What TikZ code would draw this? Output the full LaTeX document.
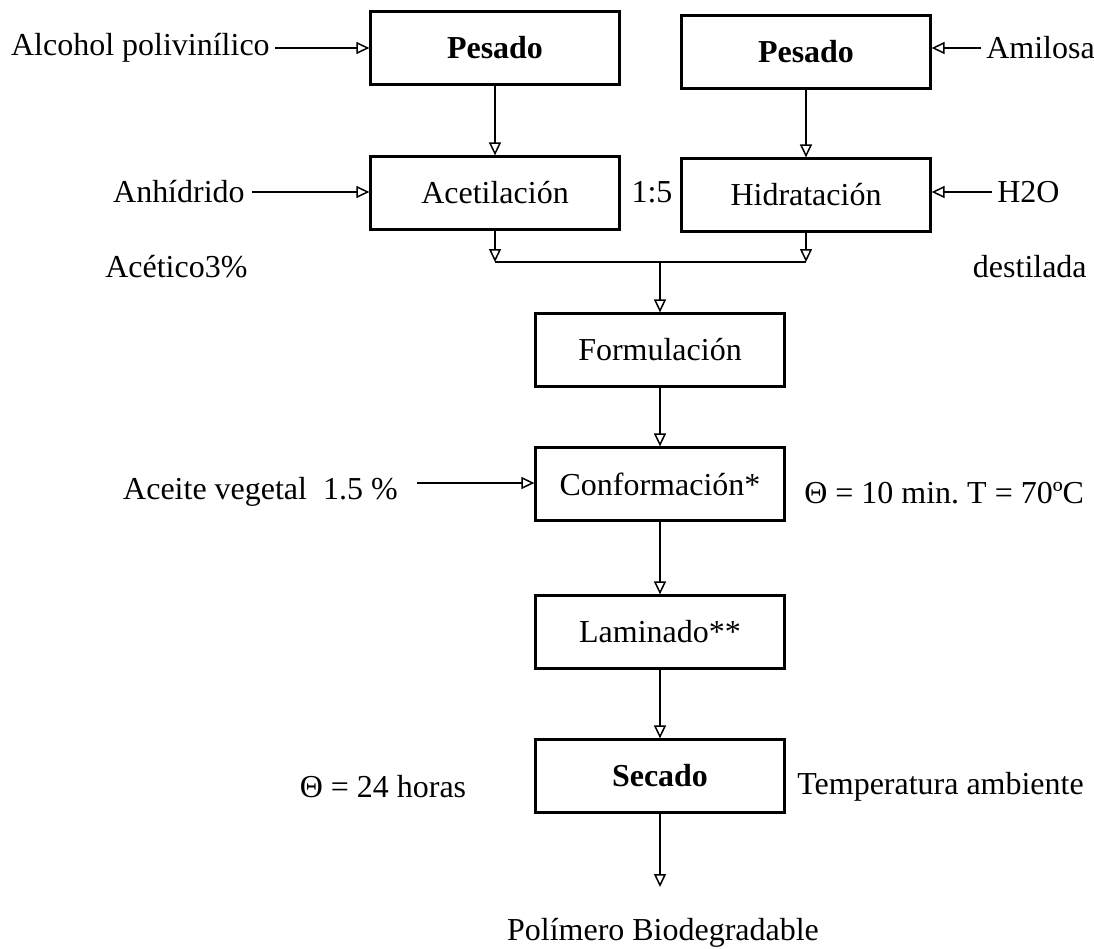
\documentclass[tikz,border=0pt]{standalone}
\usepackage{fontspec}
\setmainfont{Liberation Serif}
\usetikzlibrary{arrows.meta}
\begin{document}
\fontsize{18.2}{22}\selectfont
\frenchspacing
\begin{tikzpicture}[x=0.2mm, y=-0.2mm,
	box/.style={draw, line width=0.45mm, minimum width=49.8mm, minimum height=14.6mm, inner sep=0pt},
	lbl/.style={inner sep=0pt},
	flow/.style={line width=0.3mm, -{Triangle[open, length=2.6mm, width=2.4mm]}},
	link/.style={line width=0.3mm}]
	\useasboundingbox (0,0) rectangle (1094,948);
	\node[box, font=\bfseries] (pes1) at (495,48) {Pesado};
	\node[box, font=\bfseries] (pes2) at (806,52) {Pesado};
	\node[box] (acet) at (495,193) {Acetilación};
	\node[box] (hidr) at (806,195) {Hidratación};
	\node[box] (form) at (660,350) {Formulación};
	\node[box] (conf) at (660,484) {Conformación*};
	\node[box] (lam) at (660,632) {Laminado**};
	\node[box, font=\bfseries] (sec) at (660,776) {Secado};
	\node[lbl, anchor=east] (alc) at (270,48) {Alcohol polivinílico};
	\node[lbl, anchor=west] (amil) at (986,48) {Amilosa};
	\node[lbl, anchor=east] (anh) at (245,192) {Anhídrido};
	\node[lbl, anchor=west] (h2o) at (997,192) {H2O};
	\node[lbl, anchor=west] (acet3) at (105,267) {Acético3\%};
	\node[lbl, anchor=east] (dest) at (1087,267) {destilada};
	\node[lbl] (ratio) at (652,192) {1:5};
	\node[lbl, anchor=east] (aceite) at (398,492) {Aceite vegetal\ \ 1.5 \%};
	\node[lbl, anchor=west] (cond1) at (804,493) {Θ = 10 min. T = 70ºC};
	\node[lbl] (tiempo) at (383,787) {Θ = 24 horas};
	\node[lbl, anchor=west] (temp) at (797,787) {Temperatura ambiente};
	\node[lbl] (prod) at (663,933) {Polímero Biodegradable};
	\coordinate (jn) at (660,262);
	\coordinate (ain) at (417,483);
	\coordinate (pend) at (660,887);
	\draw[flow] ([xshift=1mm]alc.east) -- (pes1.west |- alc.east);
	\draw[flow] ([xshift=-1mm]amil.west) -- (pes2.east |- amil.west);
	\draw[flow] ([xshift=1.4mm]anh.east) -- (acet.west |- anh.east);
	\draw[flow] ([xshift=-1mm]h2o.west) -- (hidr.east |- h2o.west);
	\draw[flow] (pes1) -- (acet);
	\draw[flow] (pes2) -- (hidr);
	\draw[flow] (acet.south) -- (acet.south |- jn);
	\draw[flow] (hidr.south) -- (hidr.south |- jn);
	\draw[link] (acet.south |- jn) -- (hidr.south |- jn);
	\draw[flow] (jn) -- (form);
	\draw[flow] (form) -- (conf);
	\draw[flow] (ain) -- (conf.west |- ain);
	\draw[flow] (conf) -- (lam);
	\draw[flow] (lam) -- (sec);
	\draw[flow] (sec) -- (pend);
\end{tikzpicture}
\end{document}
